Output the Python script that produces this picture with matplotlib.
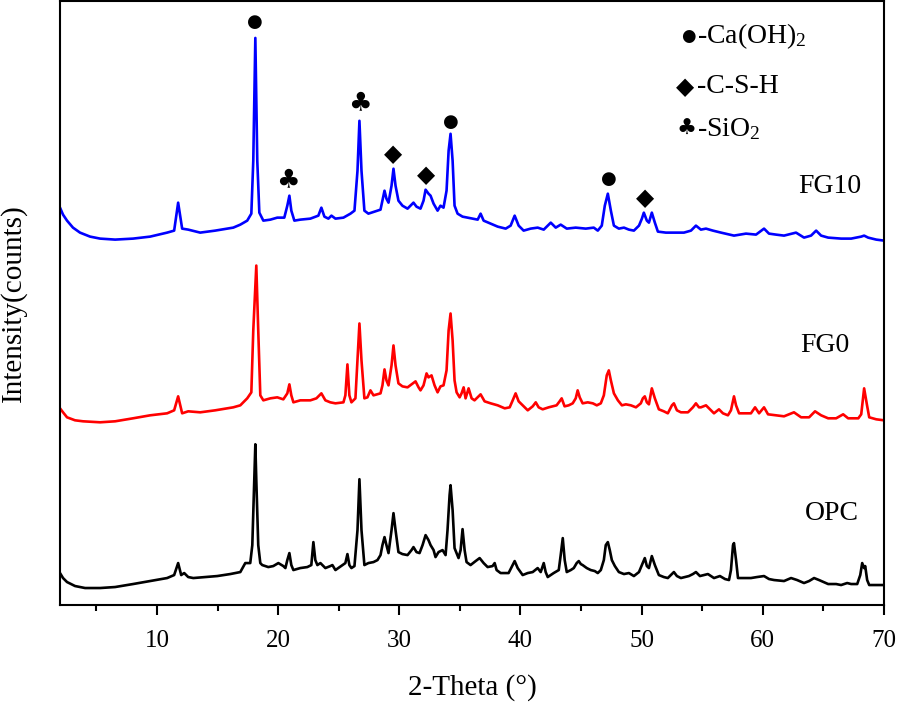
import matplotlib
matplotlib.use("Agg")
import matplotlib.pyplot as plt
from matplotlib.ticker import MultipleLocator

plt.rcParams['font.family'] = ['Liberation Serif', 'DejaVu Sans']
plt.rcParams['mathtext.fontset'] = 'custom'
plt.rcParams['mathtext.rm'] = 'Liberation Serif'
plt.rcParams['mathtext.it'] = 'Liberation Serif:italic'

# ---------------- data (2-theta, displayed intensity, arbitrary offset units) ----------
fg10_theta = [2.0, 2.25, 2.58, 3.07, 3.65, 4.48, 5.31, 6.55, 8.03, 9.44, 10.84, 11.42, 11.75, 12.08, 12.58,
              13.57, 14.81, 16.30, 16.88, 17.45, 17.79, 17.95, 18.12, 18.28, 18.45, 18.78, 19.36, 19.93, 20.51,
              20.76, 20.93, 21.09, 21.34, 21.83, 22.66, 23.32, 23.57, 23.82, 24.15, 24.40, 24.73, 25.39, 25.97,
              26.30, 26.55, 26.71, 26.88, 27.12, 27.45, 27.95, 28.45, 28.61, 28.78, 28.94, 29.11, 29.36, 29.52,
              29.69, 29.93, 30.26, 30.68, 31.01, 31.17, 31.42, 31.75, 32.00, 32.17, 32.41, 32.58, 32.83, 33.16,
              33.40, 33.65, 33.90, 34.07, 34.23, 34.40, 34.56, 34.81, 35.22, 35.64, 36.05, 36.47, 36.71, 36.96,
              37.54, 38.12, 38.78, 39.19, 39.52, 39.85, 40.26, 40.84, 41.42, 41.92, 42.50, 42.91, 43.32, 43.82,
              44.56, 45.39, 46.05, 46.38, 46.71, 46.96, 47.21, 47.46, 47.71, 48.12, 48.54, 48.95, 49.36, 49.78,
              50.02, 50.18, 50.43, 50.60, 50.84, 51.09, 51.34, 52.00, 52.83, 53.49, 54.07, 54.48, 54.89, 55.31,
              55.88, 56.55, 57.62, 58.61, 59.44, 60.10, 60.51, 61.09, 61.75, 62.74, 63.40, 63.98, 64.40, 64.81,
              65.39, 66.46, 67.29, 68.12, 68.36, 68.69, 69.36, 70.0]
fg10_int = [398, 391, 385, 378, 373, 369, 367, 366, 367, 369, 373, 375, 403, 377, 376,
            373, 375, 378, 381, 385, 392, 445, 568, 445, 393, 385, 386, 388, 388,
            400, 410, 395, 385, 386, 387, 390, 398, 389, 387, 390, 387, 388, 392,
            395, 435, 485, 435, 395, 392, 394, 396, 405, 415, 407, 403, 420, 437,
            420, 405, 400, 397, 401, 403, 399, 397, 405, 416, 412, 410, 402, 395,
            400, 398, 415, 455, 472, 445, 400, 392, 389, 388, 387, 386, 392, 385,
            382, 379, 377, 380, 390, 380, 375, 377, 378, 376, 383, 378, 381, 377,
            378, 377, 378, 375, 380, 400, 412, 395, 380, 377, 378, 376, 375, 380,
            387, 393, 385, 383, 393, 383, 374, 373, 373, 373, 375, 380, 376, 377,
            375, 373, 370, 372, 371, 377, 372, 371, 370, 373, 368, 370, 375, 370,
            368, 367, 367, 369, 370, 368, 366, 365]

fg0_theta = [2.0, 2.25, 2.58, 3.24, 3.90, 5.31, 6.55, 8.03, 9.44, 10.84, 11.42, 11.75, 12.08, 12.58, 13.57,
             14.81, 16.30, 16.88, 17.45, 17.79, 17.95, 18.20, 18.36, 18.53, 18.78, 19.36, 19.93, 20.43, 20.76,
             20.93, 21.09, 21.26, 21.83, 22.66, 23.16, 23.57, 23.90, 24.31, 24.73, 25.39, 25.55, 25.72, 25.88,
             26.05, 26.38, 26.55, 26.71, 26.88, 27.12, 27.37, 27.62, 27.87, 28.45, 28.61, 28.78, 28.94, 29.11,
             29.36, 29.52, 29.69, 29.93, 30.26, 30.68, 31.01, 31.34, 31.59, 31.75, 32.00, 32.25, 32.41, 32.66,
             32.91, 33.16, 33.40, 33.65, 33.90, 34.07, 34.23, 34.40, 34.56, 34.73, 34.98, 35.14, 35.31, 35.47,
             35.72, 35.97, 36.21, 36.71, 37.04, 37.54, 38.12, 38.70, 39.11, 39.36, 39.60, 39.85, 40.18, 40.60,
             41.01, 41.26, 41.50, 41.83, 42.33, 42.66, 42.98, 43.23, 43.40, 43.64, 43.98, 44.31, 44.56, 44.72,
             44.89, 45.13, 45.55, 45.97, 46.30, 46.63, 46.88, 47.12, 47.29, 47.46, 47.71, 48.04, 48.37, 48.70,
             49.11, 49.53, 49.93, 50.10, 50.26, 50.43, 50.60, 50.84, 51.09, 51.42, 51.83, 52.16, 52.50, 52.66,
             52.91, 53.24, 53.82, 54.23, 54.48, 54.73, 54.89, 55.31, 55.72, 55.97, 56.38, 56.71, 57.12, 57.37,
             57.62, 57.79, 58.04, 58.61, 59.02, 59.36, 59.69, 60.10, 60.43, 61.09, 61.75, 62.57, 63.16, 63.82,
             64.31, 64.81, 65.39, 66.05, 66.63, 67.04, 67.88, 68.12, 68.36, 68.60, 68.78, 69.36, 70.0]
fg0_int = [197, 193, 188, 185, 184, 183, 184, 187, 190, 192, 195, 209, 192, 194, 193,
           195, 198, 200, 207, 213, 275, 340, 275, 210, 205, 207, 208, 206, 212,
           221, 210, 203, 205, 205, 207, 212, 205, 203, 202, 203, 210, 241, 210,
           203, 207, 245, 282, 245, 207, 208, 215, 210, 212, 220, 236, 225, 220,
           240, 260, 240, 222, 219, 218, 221, 224, 218, 215, 220, 232, 228, 230,
           220, 213, 219, 220, 235, 275, 292, 265, 225, 213, 208, 212, 218, 207,
           217, 207, 205, 211, 204, 202, 200, 197, 198, 205, 212, 204, 200, 195,
           199, 203, 198, 196, 198, 199, 200, 204, 207, 199, 200, 202, 207, 215,
           208, 202, 203, 202, 200, 202, 210, 230, 235, 225, 212, 205, 200, 201,
           200, 198, 202, 207, 209, 203, 201, 217, 207, 196, 194, 192, 200, 202,
           195, 193, 193, 198, 202, 198, 198, 200, 195, 192, 196, 192, 190, 195,
           209, 200, 192, 192, 192, 198, 192, 198, 191, 190, 189, 193, 188, 188,
           194, 190, 187, 187, 191, 187, 187, 191, 217, 200, 188, 186, 185]

opc_theta = [2.0, 2.25, 2.58, 3.24, 4.07, 5.31, 6.55, 8.03, 9.44, 10.84, 11.42, 11.75, 12.0, 12.25, 12.58,
             13.0, 13.98, 14.98, 16.05, 16.88, 17.29, 17.70, 17.87, 18.03, 18.12, 18.20, 18.36, 18.53, 18.69,
             19.19, 19.60, 20.02, 20.43, 20.60, 20.76, 20.93, 21.09, 21.26, 21.83, 22.41, 22.74, 22.91, 23.07,
             23.24, 23.49, 23.90, 24.31, 24.48, 24.73, 25.31, 25.55, 25.72, 25.88, 26.05, 26.30, 26.55, 26.71,
             26.88, 27.12, 27.45, 27.87, 28.20, 28.45, 28.61, 28.78, 28.94, 29.11, 29.36, 29.52, 29.69, 29.93,
             30.26, 30.68, 31.01, 31.17, 31.42, 31.67, 31.92, 32.17, 32.41, 32.58, 32.83, 32.99, 33.24, 33.57,
             33.82, 33.98, 34.15, 34.23, 34.40, 34.56, 34.89, 35.06, 35.22, 35.39, 35.55, 35.88, 36.30, 36.63,
             36.96, 37.29, 37.70, 37.87, 38.03, 38.36, 39.02, 39.27, 39.52, 39.77, 40.18, 40.60, 41.01, 41.42,
             41.67, 41.92, 42.08, 42.25, 42.74, 43.16, 43.32, 43.49, 43.65, 43.82, 44.15, 44.40, 44.64, 44.81,
             44.98, 45.13, 45.47, 45.80, 46.13, 46.38, 46.63, 46.88, 47.04, 47.21, 47.37, 47.54, 47.79, 48.12,
             48.54, 48.95, 49.36, 49.78, 50.02, 50.26, 50.43, 50.60, 50.84, 51.09, 51.42, 51.83, 52.16, 52.50,
             52.66, 52.91, 53.24, 53.90, 54.23, 54.48, 54.81, 55.14, 55.47, 55.97, 56.46, 56.88, 57.21, 57.37,
             57.54, 57.62, 57.79, 57.95, 58.45, 59.02, 59.52, 60.10, 60.51, 60.93, 61.75, 62.33, 62.83, 63.40,
             63.82, 64.23, 64.64, 65.39, 66.05, 66.46, 66.96, 67.29, 67.79, 68.04, 68.20, 68.36, 68.45, 68.61,
             68.78, 69.36, 70.0]
opc_int = [32, 27, 23, 19, 17, 17, 18, 21, 24, 27, 30, 42, 30, 32, 28,
           27, 28, 29, 31, 33, 42, 42, 60, 125, 161, 125, 60, 42, 40,
           38, 39, 42, 39, 37, 45, 52, 40, 35, 37, 38, 40, 63, 45,
           40, 42, 37, 39, 40, 35, 40, 42, 51, 40, 37, 39, 75, 126,
           75, 40, 42, 43, 45, 50, 60, 68, 60, 52, 75, 92, 75, 53,
           51, 50, 55, 58, 53, 52, 60, 70, 65, 60, 55, 48, 53, 55,
           50, 75, 110, 120, 95, 57, 47, 55, 76, 55, 43, 40, 44, 47,
           42, 38, 39, 42, 35, 32, 32, 38, 44, 37, 30, 32, 33, 37,
           33, 42, 33, 28, 32, 35, 50, 67, 45, 33, 35, 37, 42, 44,
           41, 40, 37, 35, 34, 32, 35, 45, 60, 63, 55, 45, 39, 33,
           31, 32, 29, 33, 40, 47, 39, 37, 49, 40, 30, 28, 27, 31,
           33, 29, 27, 29, 31, 33, 29, 30, 31, 27, 29, 26, 25, 35,
           60, 62, 45, 27, 27, 27, 28, 29, 26, 25, 24, 27, 25, 22,
           24, 27, 25, 21, 21, 20, 22, 21, 21, 30, 42, 37, 39, 25,
           20, 20, 20]

sample_names = ["FG10", "FG0", "OPC"]
sample_colors = ["#0000ff", "#ff0000", "#000000"]

# phase markers (2-theta, displayed height)
ch_marks = [(18.12, 584), (34.23, 484), (47.29, 427)]
csh_marks = [(29.52, 452), (32.17, 431), (50.26, 408)]
sio2_marks = [(20.84, 425), (26.71, 503)]

legend_symbols = ["\u25CF", "\u25C6", "\u2663"]
legend_texts = ["-Ca(OH)$\\mathregular{_2}$", "-C-S-H", "-SiO$\\mathregular{_2}$"]

# ---------------- figure ----------------
fig = plt.figure(figsize=(8.98, 7.07), dpi=100)
ax = fig.add_axes([60 / 898, 1 - 605 / 707, 824 / 898, 604 / 707])

for th, it, c in zip([fg10_theta, fg0_theta, opc_theta], [fg10_int, fg0_int, opc_int], sample_colors):
    ax.plot(th, it, color=c, lw=1.9, solid_joinstyle='round')

ax.set_xlim(2, 70)
ax.set_ylim(0, 605)
ax.xaxis.set_major_locator(MultipleLocator(10))
ax.xaxis.set_minor_locator(MultipleLocator(5))
ax.set_yticks([])
ax.tick_params(axis='x', which='major', direction='out', length=7, width=1.5, labelsize=18, pad=11)
ax.tick_params(axis='x', which='minor', direction='out', length=4, width=1.5)
for s in ax.spines.values():
    s.set_linewidth(1.5)

ax.set_xlabel("2-Theta (\u00b0)", fontsize=21, labelpad=16)
ax.set_ylabel("Intensity(counts)", fontsize=21, labelpad=24)

sym_font = ['DejaVu Sans']
sizes = {"\u25CF": 13, "\u25C6": 17, "\u2663": 19}
for x, y in ch_marks:
    ax.text(x, y, "\u25CF", family=sym_font, fontsize=sizes["\u25CF"], ha='center', va='center')
for x, y in csh_marks:
    ax.text(x, y, "\u25C6", family=sym_font, fontsize=sizes["\u25C6"], ha='center', va='center')
for x, y in sio2_marks:
    ax.text(x, y, "\u2663", family=sym_font, fontsize=sizes["\u2663"], ha='center', va='center')

leg_y = [0.942, 0.858, 0.788]
leg_sx = [0.763, 0.758, 0.760]
leg_sizes = [12, 17, 16]
for sym, txt, y, sx, fs in zip(legend_symbols, legend_texts, leg_y, leg_sx, leg_sizes):
    ax.text(sx, y, sym, family=sym_font, fontsize=fs, ha='center', va='center', transform=ax.transAxes)
    ax.text(0.773, y, txt, fontsize=20, ha='left', va='center', transform=ax.transAxes)

label_pos = [(0.934, 0.693), (0.928, 0.430), (0.937, 0.152)]
for name, (x, y) in zip(sample_names, label_pos):
    ax.text(x, y, name, fontsize=20, ha='center', va='center', transform=ax.transAxes)

fig.savefig("out.png", dpi=100)
